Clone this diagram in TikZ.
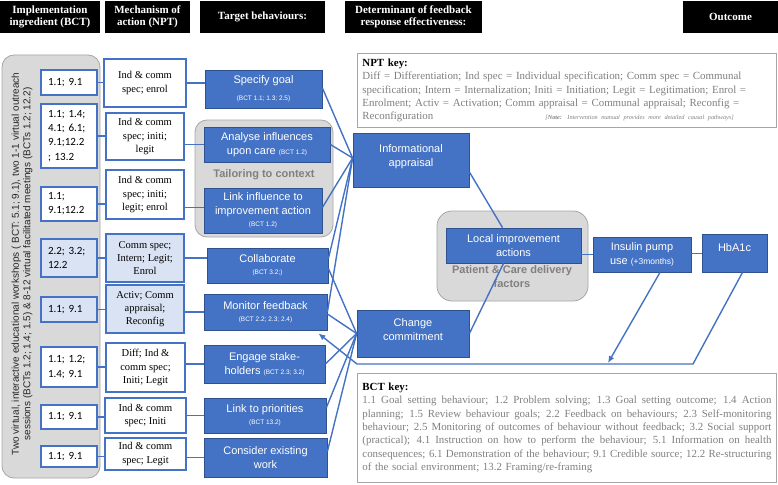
\documentclass[tikz,border=0pt]{standalone}
\usepackage{fontspec}
\setmainfont{Liberation Serif}
\setsansfont{Liberation Sans}
\newfontfamily\calibfont{Carlito}
\usetikzlibrary{calc,arrows.meta}
\definecolor{bblue}{HTML}{4472C4}
\definecolor{bborder}{HTML}{2F528F}
\definecolor{lblue}{HTML}{DAE3F3}
\definecolor{gfill}{HTML}{D9D9D9}
\definecolor{gline}{HTML}{A6A6A6}
\definecolor{gtext}{HTML}{808080}
\definecolor{vtxt}{HTML}{262626}
\newcommand\bx[7]{\node[#1,minimum width={#5-#3},minimum height={#6-#4}] (#2) at ({(#3+#5)/2},{(#4+#6)/2}) {#7};}
\newcommand\bsm[1]{{\fontsize{6.5}{8}\selectfont #1}}
\newcommand\wline[2]{\leavevmode\hbox to #1{\spaceskip=0.25em plus 1fil\relax #2}}
\newcommand\jline[1]{\wline{409pt}{#1}}
\tikzset{
  hdr/.style={fill=black,text=white,font=\bfseries\fontsize{11}{12.5}\selectfont,align=center,inner sep=0pt},
  bctbox/.style={draw=bblue,line width=1.1pt,fill=white,font=\calibfont\fontsize{11}{14.3}\selectfont,align=left,text width=42pt,inner xsep=7pt,inner ysep=0pt},
  bctlight/.style={bctbox,fill=lblue},
  nptbox/.style={draw=bblue,line width=1.1pt,fill=white,font=\fontsize{10.5}{13.3}\selectfont,align=center,inner sep=0pt},
  nptlight/.style={nptbox,fill=lblue},
  tgt/.style={draw=bborder,line width=0.8pt,fill=bblue,text=white,font=\sffamily\fontsize{11}{14}\selectfont,align=center,inner sep=0pt},
  greybox/.style={draw=gline,fill=gfill,line width=0.8pt,rounded corners=12pt},
  gtitle/.style={text=gtext,font=\sffamily\bfseries\fontsize{11}{14}\selectfont,align=center,inner sep=0pt},
  vtext/.style={rotate=90,align=center,text=vtxt,font=\sffamily\fontsize{10}{11.5}\selectfont,inner sep=0pt},
  keybox/.style={draw=gline,line width=0.9pt,fill=white,anchor=north west,align=left,text=gtext,text width=409pt,inner xsep=5pt,inner ysep=3pt,font=\fontsize{10.9}{13.3}\selectfont},
  conn/.style={draw=bblue,line width=1.4pt},
  arr/.style={conn,-{Latex[length=7pt,width=6pt]}}
}
\begin{document}
\begin{tikzpicture}[x=1pt,y=-1pt]
\useasboundingbox (0,0) rectangle (778,484);
% headers
\bx{hdr}{h1}{0}{1}{100}{33}{Implementation\\ingredient (BCT)}
\bx{hdr}{h2}{105}{1}{190}{33}{Mechanism of\\action (NPT)}
\bx{hdr}{h3}{200}{1}{325}{33}{Target behaviours:}
\bx{hdr}{h4}{345}{1}{482}{33}{Determinant of feedback\\response effectiveness:}
\bx{hdr}{h5}{683}{1}{778}{33}{Outcome}
% grey areas
\bx{greybox}{gl}{2}{55}{100}{478}{}
\bx{greybox}{gt}{195}{120}{333}{237}{}
\bx{greybox,rounded corners=15pt}{gp}{437}{211}{588}{301}{}
\node[vtext] (vt) at (22,264) {Two virtual, interactive educational workshops ( BCT: 5.1; 9.1), two 1-1 virtual outreach\\sessions (BCTs 1.2; 1.4; 1.5) \& 8-12 virtual facilitated meetings (BCTs 1.2; 12.2)};
\node[gtitle] (tc) at (264,175) {Tailoring to context};
\node[gtitle] (pc) at (512,277) {Patient \& Care delivery\\factors};
% BCT column
\bx{bctbox}{b1}{41}{70}{97}{95}{1.1; 9.1}
\bx{bctbox}{b2}{41}{104}{97}{168}{1.1; 1.4;\\4.1; 6.1;\\9.1;12.2\\; 13.2}
\bx{bctbox}{b3}{41}{187}{97}{221}{1.1;\\9.1;12.2}
\bx{bctlight}{b4}{41}{239}{97}{277}{2.2; 3.2;\\12.2}
\bx{bctlight}{b5}{41}{297}{97}{322}{1.1; 9.1}
\bx{bctbox}{b6}{41}{347}{97}{387}{1.1; 1.2;\\1.4; 9.1}
\bx{bctbox}{b7}{41}{405}{97}{429}{1.1; 9.1}
\bx{bctbox}{b8}{41}{446}{97}{467}{1.1; 9.1}
% NPT column
\bx{nptbox}{n1}{104}{59}{186}{107}{Ind \& comm\\spec; enrol}
\bx{nptbox}{n2}{106}{113}{184}{160}{Ind \& comm\\spec; initi;\\legit}
\bx{nptbox}{n3}{106}{170}{184}{219}{Ind \& comm\\spec; initi;\\legit; enrol}
\bx{nptlight}{n4}{106}{234}{184}{282}{Comm spec;\\Intern; Legit;\\Enrol}
\bx{nptlight}{n5}{106}{285}{184}{333}{Activ; Comm\\appraisal;\\Reconfig}
\bx{nptbox}{n6}{106}{343}{185}{392}{Diff; Ind \&\\comm spec;\\Initi; Legit}
\bx{nptbox}{n7}{105}{398}{186}{433}{Ind \& comm\\spec; Initi}
\bx{nptbox}{n8}{105}{438}{186}{470}{Ind \& comm\\spec; Legit}
% target behaviours
\bx{tgt}{t1}{205}{70}{322}{108}{Specify goal\\[3pt]\bsm{(BCT 1.1; 1.3; 2.5)}}
\bx{tgt}{t2}{204}{127}{330}{162}{Analyse influences\\upon care \bsm{(BCT 1.2)}}
\bx{tgt}{t3}{204}{188}{322}{233}{Link influence to\\improvement action\\[-2pt]\bsm{(BCT 1.2)}}
\bx{tgt}{t4}{207}{248}{328}{283}{Collaborate\\[-2pt]\bsm{(BCT 3.2;)}}
\bx{tgt}{t5}{204}{294}{327}{330}{Monitor feedback\\[-2pt]\bsm{(BCT 2.2; 2.3; 2.4)}}
\bx{tgt}{t6}{204}{345}{325}{383}{Engage stake-\\holders \bsm{(BCT 2.3; 3.2)}}
\bx{tgt}{t7}{204}{398}{326}{433}{Link to priorities\\[-2pt]\bsm{(BCT 13.2)}}
\bx{tgt}{t8}{204}{438}{327}{477}{Consider existing\\work}
% determinants and outcomes
\bx{tgt}{info}{353}{133}{469}{187}{Informational\\appraisal\\[-5pt]}
\bx{tgt}{chg}{357}{310}{469}{357}{Change\\commitment\\[-7pt]}
\bx{tgt}{loc}{446}{228}{581}{263}{Local improvement\\actions}
\bx{tgt}{ins}{593}{237}{691}{272}{Insulin pump\\use {\fontsize{8.5}{10}\selectfont (+3months)}}
\bx{tgt}{hba}{702}{234}{767}{272}{HbA1c\\[-4pt]}
% keys
\node[keybox,minimum height=74pt] (nptkey) at (357,53) {{\color{black}\bfseries NPT key:}\\
Diff = Differentiation; Ind spec = Individual specification; Comm spec = Communal\\
specification; Intern = Internalization; Initi = Initiation; Legit = Legitimation; Enrol =\\
Enrolment; Activ = Activation; Comm appraisal = Communal appraisal; Reconfig =\\
\makebox[183pt][l]{Reconfiguration}{\itshape\fontsize{6.2}{8}\selectfont [\textbf{Note:} Intervention manual provides more detailed causal pathways]}};
\node[keybox,minimum height=109pt] (bctkey) at (357,373) {{\color{black}\bfseries BCT key:}\\
\jline{1.1 Goal setting behaviour; 1.2 Problem solving; 1.3 Goal setting outcome; 1.4 Action}\\
\jline{planning; 1.5 Review behaviour goals; 2.2 Feedback on behaviours; 2.3 Self-monitoring}\\
\jline{behaviour; 2.5 Monitoring of outcomes of behaviour without feedback; 3.2 Social support}\\
\jline{(practical); 4.1 Instruction on how to perform the behaviour; 5.1 Information on health}\\
\jline{consequences; 6.1 Demonstration of the behaviour; 9.1 Credible source; 12.2 Re-structuring}\\
of the social environment; 13.2 Framing/re-framing};
% row connectors
\foreach \i in {1,...,8}{\draw[conn] (b\i.east) -- (b\i.east -| n\i.west);}
\draw[conn] (n1.east) -- (n1.east -| t1.west);
\draw[conn] (t2.west -| n2.east) -- (t2.west);
\draw[conn] ([yshift=3pt]t3.west -| n3.east) -- ([yshift=3pt]t3.west);
\draw[conn] (n4.east) -- (n4.east -| t4.west);
\draw[conn] (t5.west -| n5.east) -- (t5.west);
\draw[conn] (t6.west -| n6.east) -- (t6.west);
\draw[conn] (t7.west -| n7.east) -- (t7.west);
\draw[conn] (t8.west -| n8.east) -- (t8.west);
% to informational appraisal
\draw[conn] ([yshift=1pt]t1.east) -- ([yshift=2pt]info.west);
\draw[conn] (t2.east) -- ([yshift=2pt]info.west);
\draw[conn] ([yshift=3pt]t3.east) -- ([yshift=2pt]info.west);
\draw[conn] ([yshift=7pt]t4.east) -- ([yshift=2pt]info.west);
\draw[conn] (t5.east) -- ([yshift=2pt]info.west);
% to change commitment
\draw[conn] ([yshift=-3pt]t4.east) -- (chg.west);
\draw[conn] ([yshift=-2pt]t5.east) -- (chg.west);
\draw[conn] (t6.east) -- (chg.west);
\draw[conn] ([yshift=8pt]t7.east) -- (chg.west);
\draw[conn] ([yshift=6pt]t8.east) -- (chg.west);
% to local improvement and outcomes
\draw[conn] ([yshift=-12pt]info.east) -- ([xshift=-11pt]loc.north);
\draw[conn] (chg.east) -- ([xshift=-10pt]loc.south);
\draw[conn] (ins.west -| loc.east) -- (ins.west);
\draw[conn] ([yshift=1pt]ins.east) -- ([yshift=1pt]ins.east -| hba.west);
% feedback loops
\coordinate (fbR) at (693,364);
\coordinate (fbL) at (357,364);
\coordinate (fbI) at (608,363);
\draw[arr] ([xshift=18pt]ins.south) -- (fbI);
\draw[arr] ([xshift=8pt]hba.south) -- (fbR) -- (fbL) -- ([xshift=-9pt,yshift=-3pt]t5.south east);
\end{tikzpicture}
\end{document}
